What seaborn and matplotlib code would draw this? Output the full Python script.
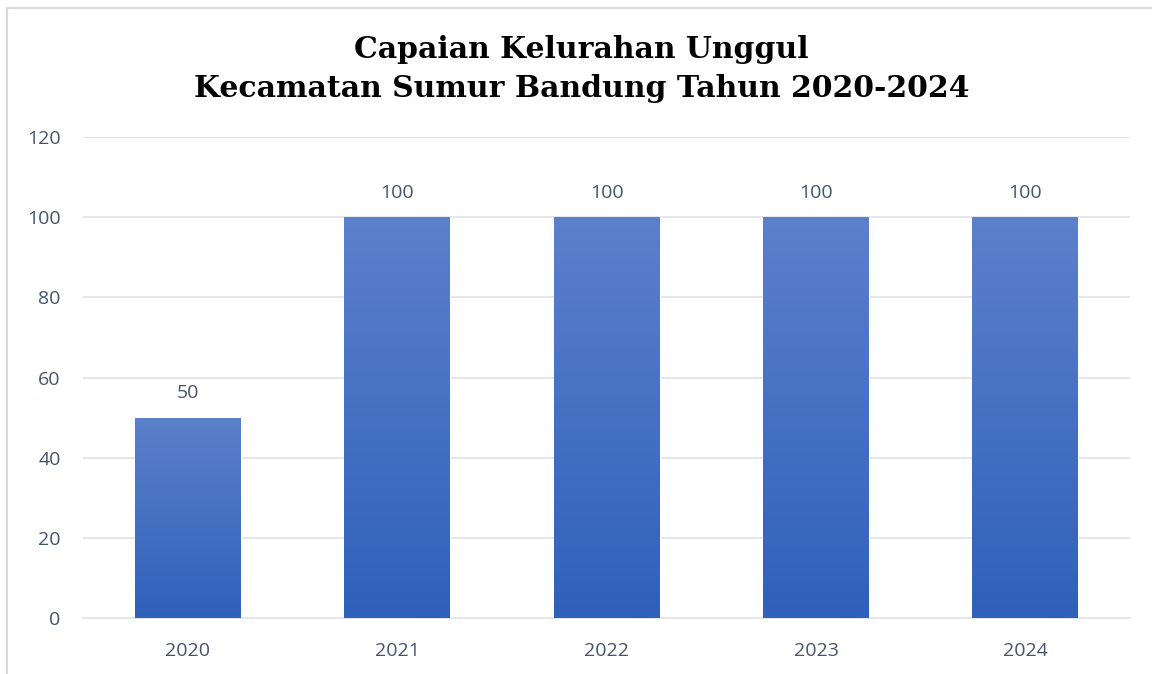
import numpy as np
import pandas as pd
import matplotlib
matplotlib.use("Agg")
import matplotlib.pyplot as plt
import seaborn as sns
from matplotlib.colors import LinearSegmentedColormap
from matplotlib.patches import Rectangle

# Data
years = ["2020", "2021", "2022", "2023", "2024"]
capaian = [50, 100, 100, 100, 100]

df = pd.DataFrame({"Tahun": years, "Capaian": capaian})

sns.set_theme(style="white")
plt.rcParams['font.family'] = ['Open Sans', 'DejaVu Sans']

text_col = "#44546a"
grid_col = "#e1e4e8"

fig = plt.figure(figsize=(11.52, 6.74), dpi=100)
ax = fig.add_axes([0.072, 0.0831, 0.909, 0.7136])

sns.barplot(data=df, x="Tahun", y="Capaian", color="#4472c4", width=0.506,
            ax=ax, zorder=2)

# Gradient fill on each bar (lighter at top, darker at bottom)
grad = LinearSegmentedColormap.from_list("bar", ["#2f61ba", "#5c80cb"])
gradient = np.linspace(0, 1, 256).reshape(-1, 1)
for patch in ax.patches:
    x0, y0 = patch.get_x(), patch.get_y()
    w, h = patch.get_width(), patch.get_height()
    im = ax.imshow(gradient, cmap=grad, aspect="auto", origin="lower",
                   extent=[x0, x0 + w, y0, y0 + h], zorder=3)
    im.set_clip_path(patch)

# Value labels
for patch, val in zip(ax.patches, capaian):
    ax.annotate(str(val), (patch.get_x() + patch.get_width() / 2, patch.get_height()),
                xytext=(0, 11), textcoords="offset points", ha="center", va="bottom",
                fontsize=14, color=text_col)

ax.set_xlim(-0.5, len(years) - 0.5)
ax.set_ylim(0, 120)
ax.set_yticks(range(0, 121, 20))
ax.yaxis.grid(True, color=grid_col, linewidth=1.3, zorder=0)
ax.set_axisbelow(True)
for side in ["top", "right", "left"]:
    ax.spines[side].set_visible(False)
ax.spines["bottom"].set_color(grid_col)
ax.spines["bottom"].set_linewidth(1.3)
ax.tick_params(axis="both", length=0, labelsize=14, labelcolor=text_col)
ax.tick_params(axis="x", pad=17)
ax.tick_params(axis="y", pad=16)
ax.set_xlabel("")
ax.set_ylabel("")

fig.text(0.505, 0.926, "Capaian Kelurahan Unggul", ha="center", va="center",
         fontsize=21.5, fontweight="bold", family="DejaVu Serif", color="black")
fig.text(0.505, 0.869, "Kecamatan Sumur Bandung Tahun 2020-2024", ha="center",
         va="center", fontsize=21.5, fontweight="bold", family="DejaVu Serif",
         color="black")

# Chart-area border
fig.patches.append(Rectangle((0.006, -0.05), 1.2, 1.038, transform=fig.transFigure,
                             fill=False, edgecolor="#d9d9d9", linewidth=1.5))

fig.savefig("out.png", dpi=100)
